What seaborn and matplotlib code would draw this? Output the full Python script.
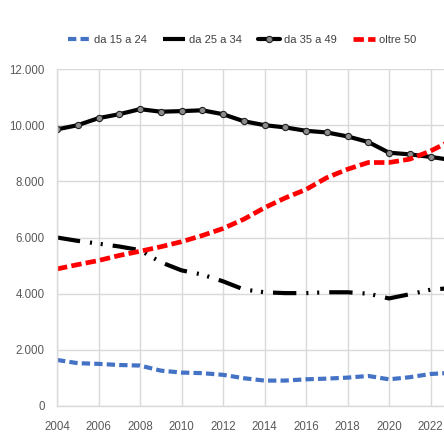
import numpy as np
import pandas as pd
import matplotlib
matplotlib.use("Agg")
import matplotlib.pyplot as plt
import seaborn as sns
from matplotlib.ticker import FuncFormatter, MultipleLocator

years = list(range(2004, 2024))
da_15_24 = [1640, 1525, 1500, 1460, 1440, 1260, 1190, 1170, 1110, 990,
            905, 905, 950, 975, 1010, 1070, 950, 1025, 1140, 1180]
da_25_34 = [6000, 5880, 5780, 5680, 5550, 5120, 4830, 4680, 4440, 4150,
            4050, 4020, 4020, 4050, 4050, 4000, 3830, 3980, 4140, 4200]
da_35_49 = [9850, 10000, 10250, 10390, 10570, 10480, 10500, 10530, 10390, 10140,
            10000, 9920, 9800, 9740, 9600, 9400, 9020, 8960, 8870, 8760]
oltre_50 = [4880, 5035, 5180, 5360, 5510, 5670, 5850, 6070, 6320, 6650,
            7060, 7410, 7710, 8130, 8430, 8670, 8670, 8790, 9080, 9450]
series_labels = ["da 15 a 24", "da 25 a 34", "da 35 a 49", "oltre 50"]

sns.set_style("white")
plt.rcParams["font.family"] = ["Liberation Sans", "DejaVu Sans"]

df = pd.DataFrame({"anno": years, series_labels[0]: da_15_24, series_labels[1]: da_25_34,
                   series_labels[2]: da_35_49, series_labels[3]: oltre_50})

fig = plt.figure(figsize=(4.44, 4.33), dpi=100)
ax = fig.add_axes([57 / 444, 1 - 406 / 433, 1 - 57 / 444, (406 - 69) / 433])

sns.lineplot(data=df, x="anno", y=series_labels[0], ax=ax, color="#4472C4",
             linewidth=3.0, label=series_labels[0])
ax.lines[-1].set_dashes((2.0, 1.0))
sns.lineplot(data=df, x="anno", y=series_labels[1], ax=ax, color="black",
             linewidth=3.0, label=series_labels[1])
ax.lines[-1].set_dashes((5.6, 2.4, 0.5, 2.1, 0.5, 2.4))
sns.lineplot(data=df, x="anno", y=series_labels[2], ax=ax, color="black",
             linewidth=3.0, marker="o", markersize=4.5, markerfacecolor="#8c8c8c",
             markeredgecolor="#222222", markeredgewidth=0.8, label=series_labels[2])
sns.lineplot(data=df, x="anno", y=series_labels[3], ax=ax, color="#FF0000",
             linewidth=3.4, label=series_labels[3])
ax.lines[-1].set_dashes((2.2, 0.9))

ax.set_xlim(2004, 2004 + (444 - 57) / 20.75)
ax.set_ylim(0, 12000)
ax.xaxis.set_major_locator(MultipleLocator(2))
ax.yaxis.set_major_locator(MultipleLocator(2000))
ax.yaxis.set_major_formatter(FuncFormatter(lambda v, p: f"{int(v):,}".replace(",", ".")))
ax.set_xlabel("")
ax.set_ylabel("")
ax.grid(True, color="#d9d9d9", linewidth=1.0)
ax.set_axisbelow(True)
for s in ["top", "right"]:
    ax.spines[s].set_visible(False)
for s in ["left", "bottom"]:
    ax.spines[s].set_color("#d9d9d9")
    ax.spines[s].set_linewidth(1.0)
ax.tick_params(axis="both", length=0, labelsize=8.3, colors="#595959")
ax.tick_params(axis="x", pad=11)
ax.tick_params(axis="y", pad=9)

ax.legend_.remove()
handles, labels = ax.get_legend_handles_labels()
fig.legend(handles, labels, loc="center", bbox_to_anchor=(242 / 444, 1 - 40 / 433),
           ncol=4, frameon=False, fontsize=8, handlelength=2.0, handletextpad=0.3,
           columnspacing=1.5, labelcolor="#404040")

fig.savefig("out.png", dpi=100)
